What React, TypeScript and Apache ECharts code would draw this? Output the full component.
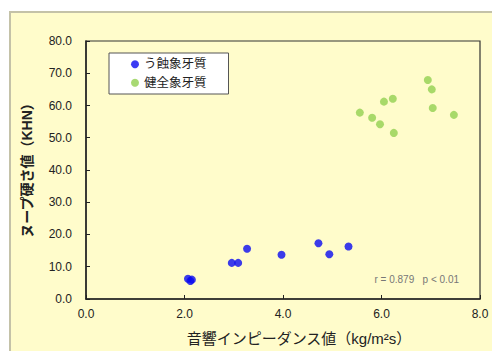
import React, { useEffect, useRef } from "react";
import * as echarts from "echarts";

const cariesX = [2.07, 2.12, 2.15, 2.96, 3.09, 3.27, 3.97, 4.72, 4.94, 5.33];
const cariesY = [6.3, 5.6, 6.0, 11.2, 11.2, 15.6, 13.7, 17.3, 13.9, 16.3];
const soundX = [5.56, 5.81, 5.97, 6.05, 6.23, 6.25, 6.94, 7.02, 7.04, 7.47];
const soundY = [57.8, 56.2, 54.2, 61.2, 62.1, 51.5, 67.9, 65.0, 59.2, 57.1];
const seriesNames = ["う蝕象牙質", "健全象牙質"];
const xName = "音響インピーダンス値（kg/m²s）";
const yName = "ヌープ硬さ値（KHN）";
const note = "r = 0.879   p < 0.01";

const FONT = "'Liberation Sans', 'Noto Sans CJK JP', sans-serif";

export default function App() {
  const ref = useRef<HTMLDivElement>(null);
  useEffect(() => {
    if (!ref.current) return;
    const chart = echarts.init(ref.current, null, { renderer: "svg" });
    const zip = (xs: number[], ys: number[]) => xs.map((x, i) => [x, ys[i]]);
    chart.setOption({
      animation: false,
      backgroundColor: "#ffffff",
      textStyle: { fontFamily: FONT },
      graphic: [
        {
          type: "rect",
          z: -10,
          shape: { x: 10, y: 12, width: 500, height: 360 },
          style: { fill: "#FFFCCB", stroke: "#C4C2A8", lineWidth: 2 },
        },
        {
          type: "text",
          right: 33,
          top: 274,
          style: { text: note, fill: "#777", font: `10px ${FONT}` },
        },
      ],
      grid: {
        left: 86,
        top: 41,
        right: 12,
        bottom: 51,
        show: true,
        borderColor: "#333",
        borderWidth: 1.2,
        backgroundColor: "transparent",
      },
      legend: {
        left: 109,
        top: 53,
        orient: "vertical",
        width: 110,
        itemWidth: 8,
        itemHeight: 8,
        itemGap: 6,
        icon: "circle",
        backgroundColor: "#ffffff",
        borderColor: "#555",
        borderWidth: 1,
        borderRadius: 0,
        padding: [5, 22, 5, 22],
        textStyle: { fontSize: 12.5, color: "#222", fontFamily: FONT },
        data: seriesNames,
      },
      xAxis: {
        type: "value",
        min: 0,
        max: 8,
        interval: 2,
        name: xName,
        nameLocation: "middle",
        nameGap: 32,
        nameTextStyle: { fontSize: 15, color: "#222", padding: [0, 0, 0, 32] },
        axisLine: { lineStyle: { color: "#222", width: 1.5 } },
        axisTick: { inside: true, length: 4, lineStyle: { color: "#222" } },
        axisLabel: {
          fontSize: 12,
          color: "#222",
          margin: 9,
          formatter: (v: number) => v.toFixed(1),
        },
        splitLine: { show: false },
      },
      yAxis: {
        type: "value",
        min: 0,
        max: 80,
        interval: 10,
        name: yName,
        nameLocation: "middle",
        nameGap: 52,
        nameTextStyle: { fontSize: 14, color: "#222", fontWeight: "bold", padding: [0, 0, 0, 6] },
        axisLine: { lineStyle: { color: "#222", width: 1.5 } },
        axisTick: { inside: true, length: 4, lineStyle: { color: "#222" } },
        axisLabel: {
          fontSize: 12,
          color: "#222",
          margin: 14,
          formatter: (v: number) => v.toFixed(1),
        },
        splitLine: { show: false },
      },
      series: [
        {
          name: seriesNames[0],
          type: "scatter",
          symbolSize: 8,
          itemStyle: { color: "#0A0AF0" },
          data: zip(cariesX, cariesY),
        },
        {
          name: seriesNames[1],
          type: "scatter",
          symbolSize: 8,
          itemStyle: { color: "#92D050" },
          data: zip(soundX, soundY),
        },
      ],
    });
    return () => chart.dispose();
  }, []);
  return (
    <div
      ref={ref}
      style={{ position: "fixed", left: 0, top: 0, width: 492, height: 351 }}
    />
  );
}
